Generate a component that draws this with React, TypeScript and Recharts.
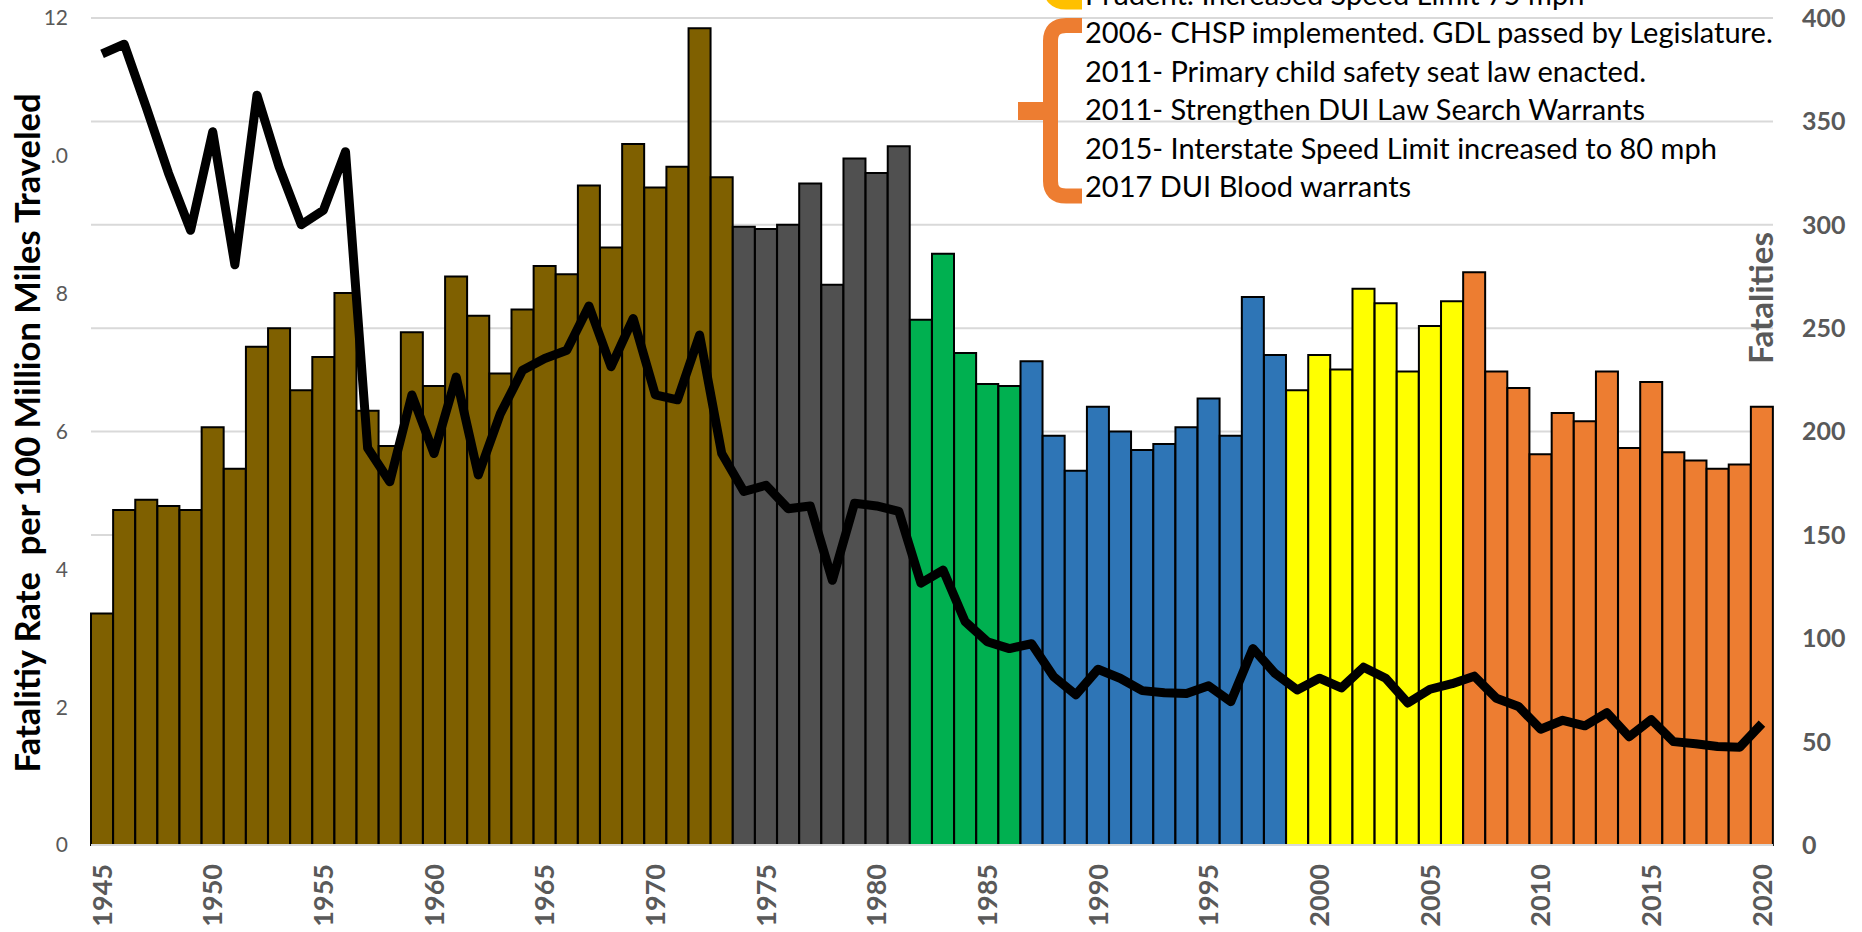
import React from 'react';
import { ComposedChart, Bar, Line, XAxis, YAxis, CartesianGrid, Cell } from 'recharts';

const years = [
  1945, 1946, 1947, 1948, 1949, 1950, 1951, 1952, 1953, 1954,
  1955, 1956, 1957, 1958, 1959, 1960, 1961, 1962, 1963, 1964,
  1965, 1966, 1967, 1968, 1969, 1970, 1971, 1972, 1973, 1974,
  1975, 1976, 1977, 1978, 1979, 1980, 1981, 1982, 1983, 1984,
  1985, 1986, 1987, 1988, 1989, 1990, 1991, 1992, 1993, 1994,
  1995, 1996, 1997, 1998, 1999, 2000, 2001, 2002, 2003, 2004,
  2005, 2006, 2007, 2008, 2009, 2010, 2011, 2012, 2013, 2014,
  2015, 2016, 2017, 2018, 2019, 2020,
];

const fatalities = [
  112, 162, 167, 164, 162, 202, 182, 241, 250, 220,
  236, 267, 210, 193, 248, 222, 275, 256, 228, 259,
  280, 276, 319, 289, 339, 318, 328, 395, 323, 299,
  298, 300, 320, 271, 332, 325, 338, 254, 286, 238,
  223, 222, 234, 198, 181, 212, 200, 191, 194, 202,
  216, 198, 265, 237, 220, 237, 230, 269, 262, 229,
  251, 263, 277, 229, 221, 189, 209, 205, 229, 192,
  224, 190, 186, 182, 184, 212,
];

const fatalityRate = [
  11.48, 11.62, 10.7, 9.75, 8.92, 10.35, 8.42, 10.88, 9.84, 9.0,
  9.21, 10.06, 5.76, 5.27, 6.53, 5.68, 6.79, 5.37, 6.26, 6.89,
  7.06, 7.18, 7.82, 6.94, 7.64, 6.53, 6.46, 7.4, 5.68, 5.13,
  5.22, 4.88, 4.92, 3.84, 4.96, 4.92, 4.84, 3.8, 3.99, 3.24,
  2.95, 2.85, 2.92, 2.44, 2.18, 2.55, 2.42, 2.24, 2.21, 2.2,
  2.31, 2.08, 2.85, 2.49, 2.25, 2.42, 2.28, 2.58, 2.42, 2.06,
  2.26, 2.34, 2.45, 2.13, 2.01, 1.68, 1.81, 1.73, 1.92, 1.57,
  1.82, 1.5, 1.47, 1.43, 1.42, 1.76,
];

const eraStartYears = [1945, 1974, 1982, 1987, 1999, 2007];
const eraColors = ['#7F6000', '#505050', '#00B050', '#2E75B6', '#FFFF00', '#ED7D31'];

const leftTicks = [0, 2, 4, 6, 8, 10, 12];
const rightTicks = [0, 50, 100, 150, 200, 250, 300, 350, 400];

const annotationLines = [
  'Prudent: Increased Speed Limit 75 mph',
  '2006- CHSP implemented. GDL passed by Legislature.',
  '2011- Primary child safety seat law enacted.',
  '2011- Strengthen DUI Law Search Warrants',
  '2015- Interstate Speed Limit increased to 80 mph',
  '2017 DUI Blood warrants',
];

const leftTitle = 'Fatalitiy Rate  per 100 Million Miles Traveled';
const rightTitle = 'Fatalities';

const data = years.map((year, i) => ({
  year,
  fatalities: fatalities[i],
  rate: fatalityRate[i],
}));

const colorFor = (year: number) => {
  let idx = 0;
  eraStartYears.forEach((s, i) => {
    if (year >= s) idx = i;
  });
  return eraColors[idx];
};

const FONT = 'Lato, "Open Sans", sans-serif';

const XTick = (props: any) => {
  const { x, y, payload } = props;
  return (
    <text
      x={x}
      y={y}
      transform={`rotate(-90 ${x} ${y})`}
      textAnchor="end"
      dy="0.36em"
      fill="#595959"
      fontSize={27}
      fontWeight={700}
      fontFamily={FONT}
    >
      {payload.value}
    </text>
  );
};

export default function App() {
  return (
    <div
      style={{
        position: 'absolute',
        left: 0,
        top: 0,
        width: 1862,
        height: 932,
        overflow: 'hidden',
        background: '#fff',
        fontFamily: FONT,
      }}
    >
      <ComposedChart
        width={1862}
        height={932}
        data={data}
        margin={{ top: 18, right: 0, bottom: 0, left: 0 }}
        barCategoryGap={0}
        barGap={0}
      >
        <CartesianGrid vertical={false} yAxisId="right" stroke="#D9D9D9" strokeWidth={2} />
        <XAxis
          dataKey="year"
          interval={4}
          height={87}
          tickLine={false}
          tickSize={0}
          tickMargin={19}
          axisLine={{ stroke: '#D9D9D9', strokeWidth: 2 }}
          tick={<XTick />}
        />
        <YAxis
          yAxisId="left"
          domain={[0, 12]}
          ticks={leftTicks}
          width={91}
          axisLine={false}
          tickLine={false}
          tickSize={0}
          tickMargin={23}
          tickFormatter={(v: number) => (v === 10 ? '.0' : String(v))}
          tick={{ fill: '#595959', fontSize: 21, fontFamily: FONT }}
        />
        <YAxis
          yAxisId="right"
          orientation="right"
          domain={[0, 400]}
          ticks={rightTicks}
          width={89}
          axisLine={false}
          tickLine={false}
          tickSize={0}
          tickMargin={29}
          tick={{ fill: '#595959', fontSize: 25, fontWeight: 700, fontFamily: FONT }}
        />
        <Bar yAxisId="right" dataKey="fatalities" stroke="#000" strokeWidth={2} isAnimationActive={false}>
          {data.map((d) => (
            <Cell key={d.year} fill={colorFor(d.year)} />
          ))}
        </Bar>
        <Line
          yAxisId="left"
          type="linear"
          dataKey="rate"
          stroke="#000"
          strokeWidth={9}
          strokeLinejoin="round"
          dot={false}
          activeDot={false}
          isAnimationActive={false}
        />
      </ComposedChart>
      <svg
        width={1862}
        height={932}
        style={{ position: 'absolute', left: 0, top: 0, pointerEvents: 'none' }}
      >
        <path
          d="M1050.5 -30 V -14 Q1050.5 2 1066 2 H1082"
          fill="none"
          stroke="#FFC000"
          strokeWidth={15}
        />
        <path
          d="M1082 25.5 H1066 Q1050.5 25.5 1050.5 41 V181 Q1050.5 196 1066 196 H1082"
          fill="none"
          stroke="#ED7D31"
          strokeWidth={15}
        />
        <path d="M1018 111 H1050" fill="none" stroke="#ED7D31" strokeWidth={18} />
        {annotationLines.map((t, i) => (
          <text
            key={i}
            x={1085}
            y={4.9 + i * 38.4}
            fontSize={29}
            fontFamily={FONT}
            fill="#000"
          >
            {t}
          </text>
        ))}
        <text
          transform="rotate(-90)"
          x={-433}
          y={40}
          textAnchor="middle"
          fontSize={34.5}
          fontWeight={700}
          fontFamily={FONT}
          fill="#000"
          style={{ whiteSpace: 'pre' }}
        >
          {leftTitle}
        </text>
        <text
          transform="rotate(-90)"
          x={-298}
          y={1773}
          textAnchor="middle"
          fontSize={33}
          fontWeight={700}
          fontFamily={FONT}
          fill="#595959"
        >
          {rightTitle}
        </text>
      </svg>
    </div>
  );
}
